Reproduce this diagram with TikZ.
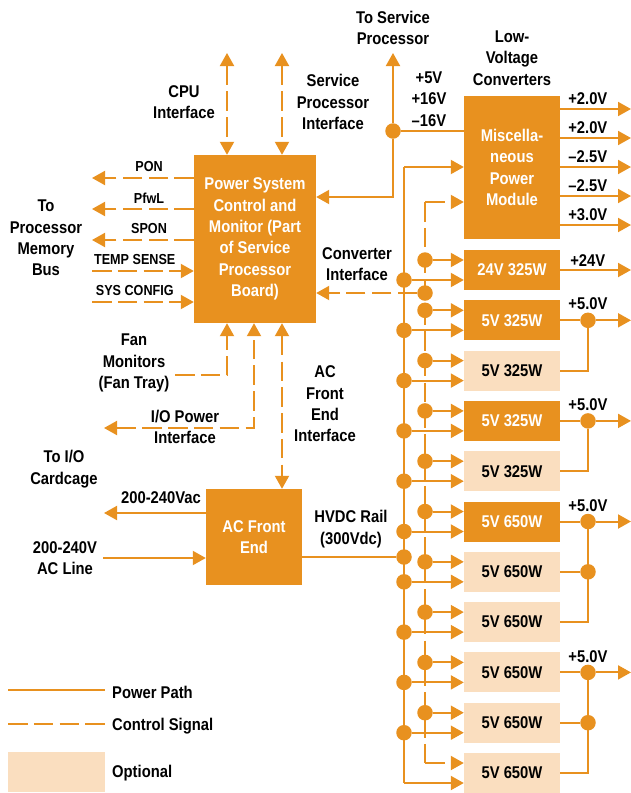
\documentclass[tikz,border=0pt]{standalone}
\usepackage{fontspec}
\setmainfont{Liberation Sans}[FakeStretch=0.87]
\usetikzlibrary{arrows.meta}
\definecolor{hporange}{RGB}{232,145,31}
\definecolor{hplight}{RGB}{250,222,191}

\begin{document}
\begin{tikzpicture}[x=1pt,y=-1pt,>={Triangle[length=13pt,width=14pt]},
  every node/.style={font=\fontsize{17}{21.3}\selectfont\bfseries,align=center,inner sep=0pt}]
  \tikzstyle{blk}=[fill=hporange,text=white,minimum width=96pt]
  \tikzstyle{cv}=[blk,minimum height=40pt]
  \tikzstyle{lt}=[cv,fill=hplight,text=black]
  \tikzstyle{pw}=[draw=hporange,line width=2pt]
  \tikzstyle{sg}=[pw,dash pattern=on 19.5pt off 6.3pt]
  \tikzstyle{dot}=[circle,fill=hporange,minimum size=15.5pt]
  \tikzstyle{sm}=[font=\fontsize{14.5}{17}\selectfont\bfseries]
  \useasboundingbox (0,0) rectangle (631,793);

  % main blocks
  \node[blk,minimum width=122pt,minimum height=168pt] (pscm) at (255,239) {Power System\\Control and\\Monitor (Part\\of Service\\Processor\\Board)};
  \node[blk,minimum height=143pt] (misc) at (512,167.5) {Miscella-\\neous\\Power\\Module};
  \node[blk,minimum height=96pt] (afe) at (254,537) {AC Front\\End};

  % converters
  \foreach \k/\txt/\sty in {0/24V 325W/cv,1/5V 325W/cv,2/5V 325W/lt,3/5V 325W/cv,4/5V 325W/lt,
      5/5V 650W/cv,6/5V 650W/lt,7/5V 650W/lt,8/5V 650W/lt,9/5V 650W/lt,10/5V 650W/lt}
    \node[\sty] (c\k) at (512,{270+50.3*\k}) {\txt};

  % power and control buses
  \coordinate (ptop) at (404,167);
  \coordinate (pbot) at (404,{280+50.3*10});
  \coordinate (ctop) at (425,202);
  \coordinate (cbot) at (425,{260+50.3*10});
  \draw[pw] (ptop) -- (pbot);
  \draw[pw,->] (ptop) -- (misc.west |- ptop);
  \draw[pw,->] (pbot) -- (c10.west |- pbot);
  \draw[sg] (ctop) -- (cbot);
  \draw[sg,->] (ctop) -- (misc.west |- ctop);
  \draw[sg,->] (cbot) -- (c10.west |- cbot);
  \foreach \k in {0,...,9} {
    \node[dot] (cd\k) at (425,{260+50.3*\k}) {};
    \node[dot] (pd\k) at (404,{280+50.3*\k}) {};
    \draw[sg,->] (cd\k) -- (c\k.west |- cd\k);
    \draw[pw,->] (pd\k) -- (c\k.west |- pd\k);
  }
  \node[dot] (cif) at (425,293) {};
  \draw[sg,->] (cif) -- (pscm.east |- cif);
  \node (cifl) at (357,264) {Converter\\Interface};
  \node[dot] (hv) at (404,557) {};
  \draw[pw] (afe.east |- hv) -- (hv);
  \node (hvl) at (351,529) {HVDC Rail\\(300Vdc)};

  % outputs
  \foreach \y/\v [count=\i] in {109/+2.0V,138/+2.0V,167/–2.5V,196/–2.5V,225/+3.0V} {
    \coordinate (mo\i) at (631,\y);
    \draw[pw,->] (misc.east |- mo\i) -- (mo\i) node[pos=0.39,above=3pt] (mv\i) {\v};
  }
  \coordinate (o0) at (631,270);
  \draw[pw,->] (c0.east) -- (o0) node[pos=0.39,above=3pt] (v0) {+24V};
  \foreach \h in {1,3,5,8} {
    \node[dot] (j\h) at (588,{270+50.3*\h}) {};
    \coordinate (o\h) at (631,{270+50.3*\h});
    \draw[pw] (c\h.east) -- (j\h);
    \draw[pw,->] (j\h) -- (o\h);
    \node[above=2pt] (v\h) at (j\h.north) {+5.0V};
  }
  \node[dot] (j6) at (588,{270+50.3*6}) {};
  \node[dot] (j9) at (588,{270+50.3*9}) {};
  \draw[pw] (c2.east) -| (j1);
  \draw[pw] (c4.east) -| (j3);
  \draw[pw] (c6.east) -- (j6);
  \draw[pw] (c7.east) -| (j5);
  \draw[pw] (c9.east) -- (j9);
  \draw[pw] (c10.east) -| (j8);

  % service processor feed
  \node (tsp) at (393,28) {To Service\\Processor};
  \node[dot] (spj) at (393,131) {};
  \coordinate (spT) at (393,53);
  \coordinate (spB) at (393,197);
  \draw[pw] (misc.west |- spj) -- (spj);
  \draw[pw,->] (spj) -- (spT);
  \draw[pw,->] (spj) -- (spB) -- (pscm.east |- spB);
  \node (vlbl) at (429,99) {+5V\\+16V\\–16V};
  \node (lvc) at (512,58) {Low-\\Voltage\\Converters};

  % interfaces on top
  \coordinate (cpuT) at (227,53);
  \coordinate (spiT) at (282,53);
  \draw[sg,<->] (cpuT) -- (pscm.north -| cpuT);
  \draw[sg,<->] (spiT) -- (pscm.north -| spiT);
  \node (cpul) at (184,102) {CPU\\Interface};
  \node (spil) at (333,102) {Service\\Processor\\Interface};

  % processor memory bus signals
  \foreach \y/\s [count=\i] in {178/PON,209/PfwL,240/SPON} {
    \coordinate (l\i) at (92,\y);
    \draw[sg,->] (pscm.west |- l\i) -- (l\i) node[sm,pos=0.44,above=5pt] (s\i) {\s};
  }
  \foreach \y/\s [count=\i from 4] in {271/TEMP SENSE,302/SYS CONFIG} {
    \coordinate (l\i) at (92,\y);
    \draw[sg,->] (l\i) -- (pscm.west |- l\i) node[sm,pos=0.42,above=5pt] (s\i) {\s};
  }
  \node (pmb) at (46,238) {To\\Processor\\Memory\\Bus};

  % fan, I/O and AC front end interfaces
  \coordinate (fanL) at (175,375);
  \coordinate (fanC) at (227,375);
  \draw[sg,->] (fanL) -- (fanC) -- (pscm.south -| fanC);
  \node (fanl) at (134,363) {Fan\\Monitors\\(Fan Tray)};
  \coordinate (iopL) at (104,428);
  \coordinate (iopC) at (254,428);
  \draw[sg,<->] (iopL) -- (iopC) -- (pscm.south -| iopC);
  \node (iopl) at (185,427) {I/O Power\\Interface};
  \coordinate (acfi) at (282,400);
  \draw[sg,<->] (pscm.south -| acfi) -- (afe.north -| acfi);
  \node (acfl) at (325,404) {AC\\Front\\End\\Interface};

  % AC side
  \node (ioc) at (64,469) {To I/O\\Cardcage};
  \coordinate (vacL) at (104,513);
  \draw[pw,->] (afe.west |- vacL) -- (vacL) node[pos=0.44,above=8pt] (vacl) {200-240Vac};
  \node (acl) at (65,558) {200-240V\\AC Line};
  \coordinate (aclS) at (103,558);
  \draw[pw,->] (aclS) -- (afe.west |- aclS);

  % legend
  \draw[pw] (8,690) -- (105,690);
  \node[anchor=base west] (lg1) at (112,698) {Power Path};
  \draw[sg] (8,724) -- (105,724);
  \node[anchor=base west] (lg2) at (112,730) {Control Signal};
  \fill[hplight] (8,752) rectangle (105,792);
  \node[anchor=base west] (lg3) at (112,777) {Optional};
\end{tikzpicture}
\end{document}
